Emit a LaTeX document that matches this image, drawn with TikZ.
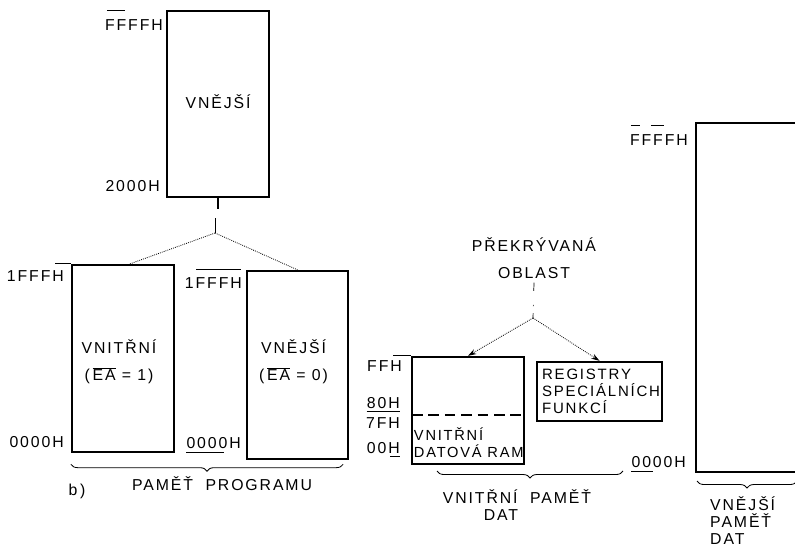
\documentclass[tikz,border=0pt]{standalone}
\usepackage{fontspec}
\setmainfont{Liberation Sans}[LetterSpace=12]
\usetikzlibrary{arrows.meta,positioning,fit,calc,decorations.pathreplacing}

\begin{document}
\begin{tikzpicture}[x=0.03cm, y=-0.03cm, font=\fontsize{13.5}{14.5}\selectfont,
    membox/.style={draw, line width=2pt, inner sep=0pt},
    addr/.style={anchor=east, inner sep=0pt},
    tickline/.style={line width=0.6pt},
    branch/.style={densely dotted, line width=0.7pt},
    curly/.style={decorate, decoration={brace, mirror, amplitude=6pt}, line width=0.7pt}]
    \useasboundingbox (0,0) rectangle (795,554);

    \node[membox, fit={(167,11) (269,197)}] (pext) {};
    \node[membox, fit={(72,265) (174,452)}] (pint) {};
    \node[membox, fit={(247,271) (348,459)}] (pext0) {};
    \node (pextlbl) at ($(pext.center)+(0,-2)$) {VNĚJŠÍ};
    \node[align=center] (pintlbl) at ($(pint.center)+(-4,3)$) {VNITŘNÍ\\[8.5pt](\,$\overline{\hbox{EA}}$ = 1)};
    \node[align=center] (pext0lbl) at ($(pext0.center)+(-4,-3)$) {VNĚJŠÍ\\[8.5pt](\,$\overline{\hbox{EA}}$ = 0)};
    \node[addr] (pa1) at (163,25) {FFFFH};
    \node[addr] (pa2) at (160,186) {2000H};
    \node[addr] (pa3) at (64,276) {1FFFH};
    \node[addr] (pa4) at (64,442) {0000H};
    \node[addr] (pa5) at (242,283) {1FFFH};
    \node[addr] (pa6) at (241,443) {0000H};
    \draw[tickline] ($(pa1.north west)+(2,-9)$) -- +(18,0);
    \draw[tickline] (pint.north west) -- +(-16,0);
    \draw[tickline] ($(pext0.north west)+(-5,0)$) -- +(-45,0);
    \draw[tickline] ($(pa6.south west)+(0,4)$) -- +(38,0);

    \coordinate (pfork) at (215,233);
    \draw[line width=1.2pt] (pext.south) -- +(0,11);
    \draw[tickline] (pfork) -- +(0,-15);
    \draw[branch] (pfork) -- ($(pint.north)+(7,0)$);
    \draw[branch] (pfork) -- (pext0.north);
    \draw[curly] ($(pint.south west)+(0,11)$) -- ($(pext0.south east)+(-6,4)$);
    \node (prog) at (222,484) {PAMĚŤ\ \ PROGRAMU};
    \node (sub) at (77,491) {b\,)};

    \node[align=center] (overlap) at (534,258) {PŘEKRÝVANÁ\\[8.5pt]OBLAST};
    \coordinate (dfork) at (533,318);
    \draw[tickline, dash pattern=on 7pt off 12pt on 1pt off 6pt] (overlap.south) -- (dfork);
    \node[membox, fit={(412,357) (524,464)}] (ram) {};
    \coordinate (ramdiv) at (412,415);
    \draw[dash pattern=on 9pt off 5pt, line width=1.2pt] (ramdiv) -- (ramdiv -| ram.east);
    \node[anchor=south west, align=left, inner sep=2.5pt, font=\fontsize{12.5}{14.5}\selectfont] (ramtxt) at ($(ram.south west)+(0,-4)$) {VNITŘNÍ\\DATOVÁ RAM};
    \node[addr] (da1) at (402,366) {FFH};
    \node[addr] (da2) at (400,403) {80H};
    \node[addr] (da3) at (400,423) {7FH};
    \node[addr] (da4) at (400,448) {00H};
    \draw[tickline] (ram.north west) -- +(-18,0);
    \draw[tickline] ($(da2.south west)+(0,3)$) -- ($(da2.south east)+(0,3)$);
    \draw[tickline] ($(da4.south east)+(-10,3)$) -- +(10,0);
    \node[membox, fit={(537,362) (662,421)}] (regs) {};
    \node[anchor=west, align=left, inner sep=0pt, font=\fontsize{12.8}{14.5}\selectfont] (regslbl) at ($(regs.west)+(6,0)$) {REGISTRY\\SPECIÁLNÍCH\\FUNKCÍ};
    \draw[branch, -{Stealth[length=2.5mm, width=1.6mm]}] (dfork) -- (ram.north);
    \draw[branch, -{Stealth[length=2.5mm, width=1.6mm]}] (dfork) -- (regs.north);
    \draw[curly] (437,471) -- (623,471);
    \node (intdat) at (517,497) {VNITŘNÍ\ \ PAMĚŤ};
    \node (intdat2) at (501,515) {DAT};

    \node[membox, fit={(696,123) (810,472)}] (dext) {};
    \node[addr] (ea1) at (688,140) {FFFFH};
    \node[addr] (ea2) at (686,462) {0000H};
    \draw[tickline] ($(ea1.north west)+(1,-9)$) -- +(9,0);
    \draw[tickline] ($(ea1.north west)+(21,-9)$) -- +(13,0);
    \draw[tickline] ($(ea2.south west)+(0,4)$) -- +(22,0);
    \draw[curly] (697,481) -- (797,481);
    \node[anchor=north west, align=left, inner sep=0pt] (extdat) at (710,496) {VNĚJŠÍ\\PAMĚŤ\\DAT};
\end{tikzpicture}
\end{document}
